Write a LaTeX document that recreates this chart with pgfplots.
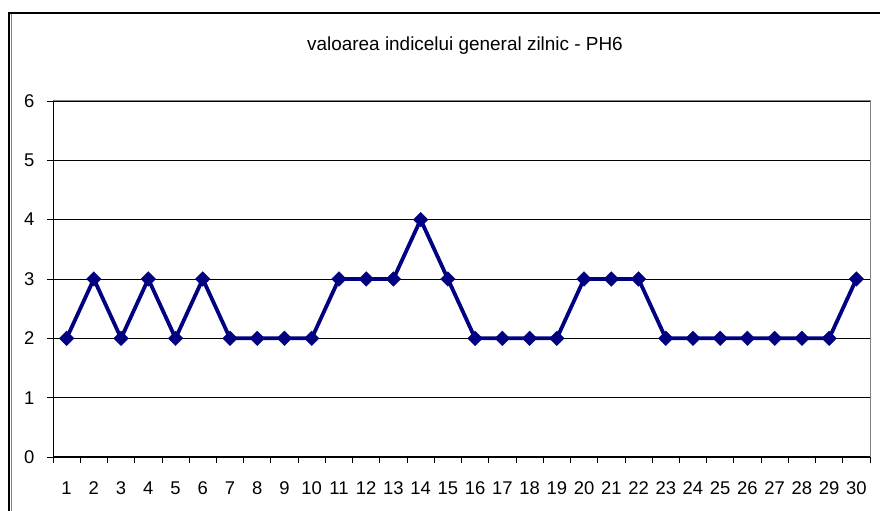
\documentclass[border=0pt]{standalone}
\usepackage{pgfplots}
\pgfplotsset{compat=1.18}
\usepackage{fontspec}
\setmainfont{Liberation Sans}
\definecolor{navyline}{RGB}{0,0,128}
\definecolor{bordergray}{RGB}{128,128,128}
\begin{document}
\begin{tikzpicture}[x=1bp,y=1bp]
\path[use as bounding box] (0,0) rectangle (880,511);
\draw[black,line width=1.6bp] (9,0) -- (9,498) -- (880,498);
\draw[bordergray,line width=0.8bp] (11.5,0) -- (11.5,496.5);
\node[font=\fontsize{19}{22}\selectfont] at (465,465) {valoarea indicelui general zilnic - PH6};
\begin{axis}[
  at={(53bp,54bp)}, anchor=south west,
  scale only axis, width=817bp, height=356bp,
  xmin=0.5, xmax=30.5, ymin=0, ymax=6,
  axis line style={draw=none},
  xtick={1,...,30}, major x tick style={draw=none},
  minor xtick={0.5,1.5,...,30.5},
  ytick={0,1,...,6},
  ymajorgrids, grid style={black, line width=0.6bp},
  tick style={black, line width=0.8bp},
  major tick length=6bp, minor tick length=6bp,
  tick align=outside,
  xtick pos=bottom, ytick pos=left,
  xticklabel style={yshift=-15bp},
  yticklabel style={xshift=-9bp},
  tick label style={font=\fontsize{18.5}{22}\selectfont},
  /pgf/number format/assume math mode=true,
  clip=false,
]
\draw[bordergray, line width=1bp] (axis cs:0.5,6) -- (axis cs:30.5,6) -- (axis cs:30.5,0);
\draw[black, line width=1bp] (axis cs:0.5,6) -- (axis cs:0.5,0) -- (axis cs:30.5,0);
\addplot[navyline, line width=3.8bp, mark=square*, mark size=5.2bp, mark options={fill=navyline, draw=navyline, line width=0.3bp, rotate=45}] coordinates {
(1,2) (2,3) (3,2) (4,3) (5,2) (6,3) (7,2) (8,2) (9,2) (10,2)
(11,3) (12,3) (13,3) (14,4) (15,3) (16,2) (17,2) (18,2) (19,2) (20,3)
(21,3) (22,3) (23,2) (24,2) (25,2) (26,2) (27,2) (28,2) (29,2) (30,3)
};
\end{axis}
\end{tikzpicture}
\end{document}
